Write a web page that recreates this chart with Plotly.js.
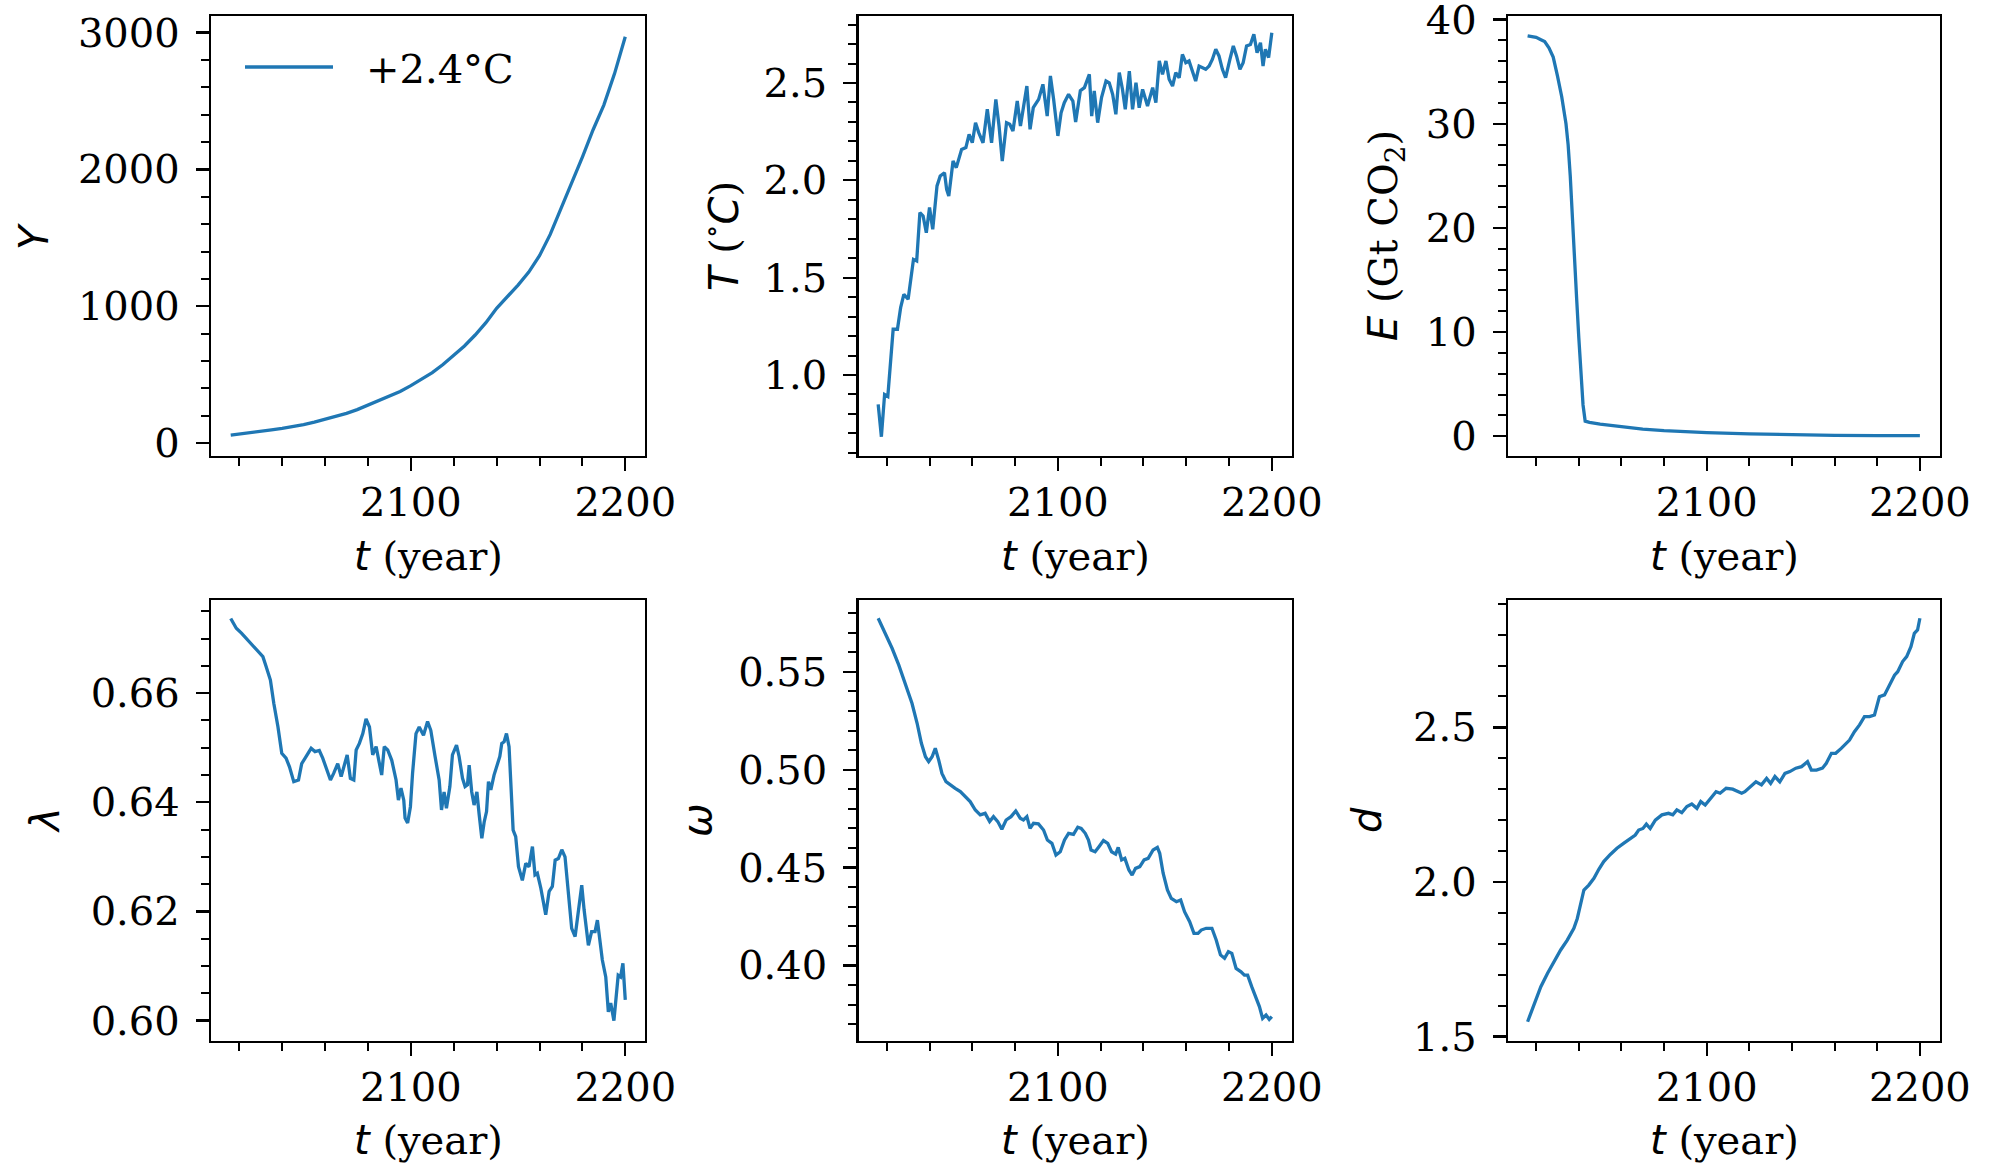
<!DOCTYPE html>
<html><head><meta charset="utf-8">
<script src="https://cdn.plot.ly/plotly-3.0.1.min.js"></script>
<style>html,body{margin:0;padding:0;background:#fff}#chart{width:1991px;height:1166px}</style>
</head><body><div id="chart"></div>
<script>
// ---- data ----
const yYear = [2016,2020,2025,2030,2035,2040,2045,2050,2055,2060,2065,2070,2075,2080,2085,2090,2095,2100,2105,2110,2115,2120,2125,2130,2135,2140,2145,2150,2155,2160,2165,2170,2175,2180,2185,2190,2195,2200];
const yVal  = [59,66,76,86,97,108,119,135,153,173,195,218,245,277,308,345,378,420,468,515,575,640,710,790,880,985,1070,1155,1250,1370,1525,1710,1895,2090,2290,2470,2700,2970];

const tempYear = [2016,2017.5,2019,2020.5,2023,2025,2026.5,2028,2030,2032.5,2034,2035.5,2037,2038.5,2040,2041.5,2043.5,2045,2047,2048,2049,2051,2052.5,2053.5,2055,2057,2058.5,2060,2061.5,2063,2065,2067,2069,2071,2072.5,2074,2076,2077.5,2079,2081,2082.5,2084,2085.5,2087,2088.5,2091,2093,2095,2096.5,2098,2100,2101.5,2103,2105,2107,2108.3,2110.5,2112.4,2114.7,2115.8,2117,2118.6,2120.4,2122.5,2124,2125.6,2127.1,2128.7,2130.2,2131.5,2133.4,2134.9,2136.5,2138,2139.6,2141.9,2144.3,2145.8,2147.4,2148.9,2150.5,2152,2153.6,2155.1,2156.7,2158.2,2159.8,2161.3,2162.9,2164.4,2166,2167.6,2169.1,2170.7,2172.2,2173.8,2175.3,2176.9,2178.4,2180.4,2182,2183.5,2185.1,2186.6,2188.2,2190,2191.6,2193.1,2194.7,2195.9,2197,2198.5,2200];
const tempVal  = [0.849,0.683,0.90,0.89,1.235,1.235,1.346,1.414,1.389,1.594,1.586,1.834,1.817,1.731,1.86,1.748,1.971,2.022,2.039,1.954,1.919,2.099,2.065,2.108,2.159,2.168,2.236,2.193,2.296,2.245,2.193,2.365,2.193,2.416,2.279,2.099,2.296,2.288,2.253,2.407,2.279,2.382,2.484,2.262,2.373,2.416,2.493,2.330,2.536,2.416,2.228,2.347,2.399,2.442,2.407,2.300,2.460,2.476,2.544,2.330,2.459,2.296,2.425,2.510,2.501,2.442,2.339,2.553,2.467,2.365,2.561,2.365,2.501,2.373,2.467,2.382,2.476,2.399,2.613,2.544,2.613,2.519,2.484,2.553,2.527,2.647,2.604,2.613,2.553,2.510,2.587,2.579,2.570,2.587,2.621,2.673,2.639,2.570,2.527,2.621,2.690,2.639,2.570,2.604,2.690,2.698,2.750,2.656,2.707,2.587,2.673,2.630,2.758];

const eYear = [2016,2018,2020,2022,2024,2026,2028,2030,2032,2034,2035,2036,2037,2038,2039,2040,2041,2042,2043,2045,2050,2060,2070,2080,2090,2100,2120,2140,2160,2180,2200];
const eVal  = [38.45,38.4,38.3,38.1,37.9,37.3,36.4,34.6,32.6,30.0,28.0,25.0,21.5,17.5,13.2,9.5,6.0,3.0,1.45,1.33,1.15,0.88,0.68,0.53,0.43,0.35,0.22,0.12,0.08,0.06,0.05];

const lamYear = [2016,2018.6,2021,2024,2027,2031,2032.5,2034.5,2036.1,2038,2039.8,2041.8,2043.4,2045.4,2047.6,2049.1,2050.7,2052.2,2053.5,2055.3,2057.3,2058.9,2060.5,2062.5,2064,2065.9,2067.5,2068.7,2070.3,2071.8,2073.4,2074.5,2076,2077.6,2079.1,2080.7,2082.2,2083.8,2085.3,2086.4,2087.6,2089.2,2091.1,2093.1,2094.2,2095.4,2096.7,2097.3,2098.5,2099.8,2100.8,2102.4,2103.9,2105.9,2107.8,2109.3,2111.3,2113.2,2114.3,2115.5,2116.6,2118.2,2119.4,2121.3,2122.5,2124.1,2125.3,2126.4,2127.2,2128.4,2129.5,2130.8,2131.8,2133.1,2134.2,2135.3,2136.2,2137.3,2138.8,2140.4,2141.5,2142.4,2143.5,2144.6,2145.8,2147.7,2148.9,2150.2,2152,2153.6,2155.1,2156.7,2157.9,2159,2160.6,2162.9,2164.5,2166,2167.3,2168.8,2170.4,2171.9,2173.5,2175,2176.6,2177.6,2179.7,2180.8,2182.8,2184.3,2185.9,2187,2188.1,2189.3,2190.9,2192.1,2193.2,2194.7,2196.7,2197.8,2198.9,2200];
const lamVal  = [0.6737,0.6719,0.6710,0.6697,0.6685,0.6667,0.6649,0.6624,0.6581,0.6539,0.6490,0.6481,0.6465,0.6438,0.6441,0.6471,0.6481,0.6490,0.6499,0.6493,0.6495,0.6481,0.6465,0.6441,0.6453,0.6471,0.6447,0.6465,0.6487,0.6444,0.6441,0.6496,0.6508,0.6526,0.6553,0.6538,0.6487,0.6502,0.6468,0.6450,0.6502,0.6496,0.6477,0.6441,0.6404,0.6426,0.6404,0.6371,0.6362,0.6392,0.6453,0.6526,0.6538,0.6523,0.6548,0.6532,0.6484,0.6441,0.6386,0.6419,0.6389,0.6429,0.6487,0.6505,0.6484,0.6444,0.6429,0.6432,0.6468,0.6419,0.6395,0.6419,0.6380,0.6334,0.6364,0.6383,0.6438,0.6423,0.6450,0.6471,0.6484,0.6508,0.6511,0.6526,0.6502,0.6349,0.6337,0.6282,0.6257,0.6288,0.6282,0.6319,0.6267,0.6270,0.6243,0.6194,0.6237,0.6246,0.6294,0.6297,0.6313,0.6300,0.6227,0.6169,0.6154,0.6184,0.6248,0.6203,0.6138,0.6163,0.6163,0.6184,0.6151,0.6111,0.6080,0.6016,0.6032,0.6000,0.6083,0.6080,0.6105,0.6038];

const omYear = [2016,2019.4,2022.5,2025.6,2028.7,2031.8,2034.2,2036.2,2038.1,2039.6,2041.2,2042.7,2044.3,2045.8,2047.7,2049.7,2052,2054.4,2056.7,2059,2061.4,2063.7,2066,2068.1,2069.9,2071.9,2073.8,2075.8,2078.1,2080.3,2082.4,2083.9,2085.5,2087,2088.6,2090.9,2093.3,2095.1,2097.2,2099.1,2101.1,2103.1,2105,2107.3,2109.3,2110.9,2112.8,2114.3,2115.5,2117.4,2119.2,2121.3,2123.3,2125.1,2127,2128.2,2129.8,2131.3,2133.2,2134.7,2136.3,2138.3,2140.3,2142.2,2144.5,2146.5,2147.6,2149.2,2151.2,2153,2155.4,2157.4,2159.2,2161.6,2163.6,2165.5,2167,2169.3,2172,2174,2176,2177.9,2179.7,2181.3,2183.3,2185.6,2187.2,2188.7,2190.6,2192.6,2194.2,2195.7,2197.3,2198.8,2200];
const omVal  = [0.5773,0.5696,0.5620,0.5535,0.5441,0.5339,0.5237,0.5135,0.5066,0.5041,0.5066,0.5109,0.5049,0.4981,0.4939,0.4922,0.4905,0.4888,0.4862,0.4837,0.4794,0.4769,0.4777,0.4735,0.4760,0.4735,0.4696,0.4743,0.4760,0.4789,0.4752,0.4743,0.4760,0.4700,0.4726,0.4723,0.4692,0.4641,0.4624,0.4564,0.4581,0.4641,0.4675,0.4670,0.4706,0.4700,0.4675,0.4641,0.4590,0.4581,0.4607,0.4638,0.4624,0.4581,0.4569,0.4603,0.4539,0.4547,0.4488,0.4462,0.4496,0.4505,0.4539,0.4547,0.4590,0.4603,0.4573,0.4471,0.4386,0.4343,0.4326,0.4335,0.4275,0.4224,0.4164,0.4164,0.4181,0.4190,0.4190,0.4130,0.4054,0.4037,0.4071,0.4062,0.3985,0.3968,0.3951,0.3951,0.3892,0.3832,0.3790,0.3730,0.3747,0.3725,0.3739];

const dYear = [2016,2019.1,2022.2,2025.3,2028.4,2031.5,2034.6,2037.7,2039.3,2040.8,2042.4,2044.7,2047.1,2049.4,2051.7,2054.8,2057.9,2061,2063.4,2066.5,2068.1,2070.1,2071.7,2073.5,2075.9,2079,2082.1,2084.1,2086,2088.3,2090.7,2093,2095.4,2097.2,2099.3,2101.6,2104.4,2106.3,2109.1,2112.2,2114.8,2116.4,2117.9,2120.3,2123.1,2125.7,2128.1,2130,2132,2134.3,2136.7,2139,2141.8,2144.5,2147.3,2149.1,2151.5,2154.3,2156.1,2158.5,2160.5,2163.1,2164.7,2167,2169.3,2171.7,2174,2176.4,2178.7,2181,2183.4,2185.7,2188.1,2189.6,2191.9,2193.8,2195.8,2197.4,2198.9,2200];
const dVal  = [1.548,1.607,1.661,1.704,1.742,1.780,1.812,1.850,1.882,1.931,1.974,1.990,2.012,2.041,2.066,2.089,2.109,2.125,2.136,2.152,2.168,2.173,2.187,2.173,2.200,2.217,2.222,2.217,2.233,2.224,2.244,2.252,2.238,2.260,2.249,2.270,2.292,2.287,2.303,2.300,2.292,2.287,2.292,2.308,2.324,2.314,2.335,2.319,2.341,2.324,2.351,2.357,2.368,2.373,2.389,2.362,2.362,2.368,2.384,2.416,2.416,2.432,2.443,2.459,2.486,2.508,2.535,2.535,2.540,2.599,2.605,2.637,2.669,2.680,2.713,2.729,2.761,2.804,2.815,2.853];

const legendName = '\u2002\u2009+2.4°C';

// ---- styling ----
const SERIF = 'DejaVu Serif, serif';
const BLUE = '#1f77b4';
const FS = 40;

function line(x, y, xa, ya, show) {
  return {x, y, xaxis: xa, yaxis: ya, type: 'scatter', mode: 'lines',
    line: {color: BLUE, width: 3.3}, name: legendName, showlegend: !!show, hoverinfo: 'skip'};
}

function xax(domain, anchor) {
  return {domain, anchor, range: [2006.8, 2209.2], tick0: 2000, dtick: 100,
    ticks: 'outside', ticklen: 13, tickwidth: 2.3, tickcolor: '#000',
    showline: true, mirror: true, linecolor: '#000', linewidth: 2.3,
    showgrid: false, zeroline: false, ticklabelstandoff: -3, ticklabeloverflow: 'allow',
    tickfont: {family: SERIF, size: FS, color: '#000'},
    minor: {dtick: 20, tick0: 2000, ticks: 'outside', ticklen: 8, tickwidth: 2, tickcolor: '#000', showgrid: false}};
}
function yax(domain, anchor, range, dtick, mdtick, fmt) {
  return {domain, anchor, range, tick0: 0, dtick, tickformat: fmt,
    ticks: 'outside', ticklen: 13, tickwidth: 2.3, tickcolor: '#000',
    showline: true, mirror: true, linecolor: '#000', linewidth: 2.3,
    showgrid: false, zeroline: false, ticklabelstandoff: 8, ticklabeloverflow: 'allow',
    tickfont: {family: SERIF, size: FS, color: '#000'},
    minor: {dtick: mdtick, tick0: 0, ticks: 'outside', ticklen: 8, tickwidth: 2, tickcolor: '#000', showgrid: false}};
}

const W = 1991, H = 1166;
const px = v => v / W, py = v => 1 - v / H;
const C1 = [px(211), px(645)], C2 = [px(858.5), px(1291.5)], C3 = [px(1508), px(1939.5)];
const R1 = [py(456), py(16)], R2 = [py(1041), py(600)];

const data = [
  line(yYear, yVal, 'x', 'y', true),
  line(tempYear, tempVal, 'x2', 'y2'),
  line(eYear, eVal, 'x3', 'y3'),
  line(lamYear, lamVal, 'x4', 'y4'),
  line(omYear, omVal, 'x5', 'y5'),
  line(dYear, dVal, 'x6', 'y6')
];

function ann(text, x, y, angle) {
  return {text, x: px(x), y: py(y), xref: 'paper', yref: 'paper', showarrow: false,
    xanchor: 'center', yanchor: 'middle', textangle: angle || 0,
    font: {family: SERIF, size: FS, color: '#000'}};
}
const it = s => '<span style="font-family:DejaVu Sans"><i>' + s + '</i></span>';
const xt = it('t') + ' (year)';

const layout = {
  width: W, height: H, margin: {l: 0, r: 0, t: 0, b: 0},
  paper_bgcolor: '#fff', plot_bgcolor: '#fff',
  font: {family: SERIF, size: FS, color: '#000'},
  xaxis: xax(C1, 'y'), yaxis: yax(R1, 'x', [-94, 3121], 1000, 200, 'd'),
  xaxis2: xax(C2, 'y2'), yaxis2: yax(R1, 'x2', [0.584, 2.844], 0.5, 0.1, '.1f'),
  xaxis3: xax(C3, 'y3'), yaxis3: yax(R1, 'x3', [-1.9, 40.35], 10, 2, 'd'),
  xaxis4: xax(C1, 'y4'), yaxis4: yax(R2, 'x4', [0.59626, 0.67708], 0.02, 0.005, '.2f'),
  xaxis5: xax(C2, 'y5'), yaxis5: yax(R2, 'x5', [0.36144, 0.58665], 0.05, 0.01, '.2f'),
  xaxis6: xax(C3, 'y6'), yaxis6: yax(R2, 'x6', [1.4856, 2.912], 0.5, 0.1, '.1f'),
  showlegend: true,
  legend: {x: px(240), y: py(67), xanchor: 'left', yanchor: 'middle', bgcolor: 'rgba(0,0,0,0)',
    font: {family: SERIF, size: FS, color: '#000'}, itemwidth: 88},
  annotations: [
    ann(xt, 428, 556), ann(xt, 1075, 556), ann(xt, 1724, 556),
    ann(xt, 428, 1140), ann(xt, 1075, 1140), ann(xt, 1724, 1140),
    ann(it('Y'), 34, 236, -90),
    ann(it('T') + ' (<sup>∘</sup>' + it('C') + ')', 721, 236, -90),
    ann(it('E') + ' (Gt CO<sub>2</sub>)', 1386, 236, -90),
    ann(it('λ'), 45, 820, -90),
    ann(it('ω'), 697, 820, -90),
    ann(it('d'), 1367, 820, -90)
  ]
};

Plotly.newPlot('chart', data, layout, {staticPlot: true, displayModeBar: false});
</script></body></html>
